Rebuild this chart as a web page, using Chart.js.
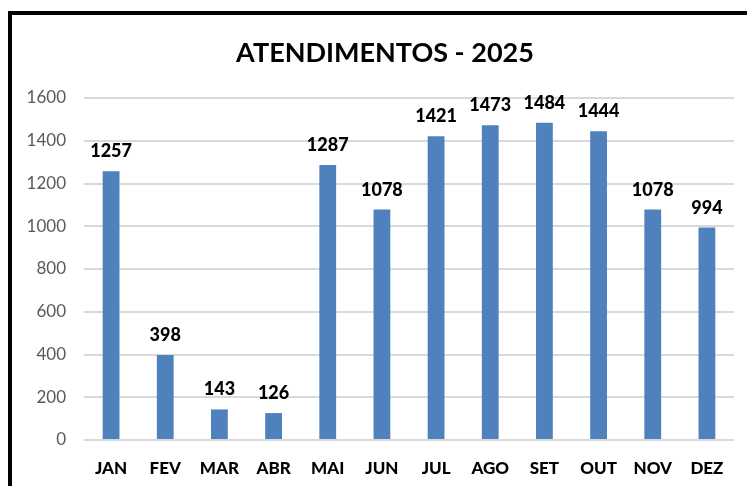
<!DOCTYPE html>
<html>
<head>
<meta charset="utf-8">
<script src="https://cdn.jsdelivr.net/npm/chart.js@4"></script>
<style>
    html, body { margin: 0; padding: 0; background: #fff; overflow: hidden; }
    #wrap { position: relative; width: 747px; height: 486px; }
    #frame {
        position: absolute; left: 8px; top: 11px; width: 760px; height: 500px;
        border-left: 4px solid #000; border-top: 4px solid #000; pointer-events: none;
    }
</style>
</head>
<body>
<div id="wrap">
    <canvas id="myChart" width="747" height="486"></canvas>
    <div id="frame"></div>
</div>
<script>
const titulo = 'ATENDIMENTOS - 2025';
const meses = ['JAN', 'FEV', 'MAR', 'ABR', 'MAI', 'JUN', 'JUL', 'AGO', 'SET', 'OUT', 'NOV', 'DEZ'];
const atendimentos = [1257, 398, 143, 126, 1287, 1078, 1421, 1473, 1484, 1444, 1078, 994];
const eixoMin = 0;
const eixoMax = 1600;
const eixoPasso = 200;

// titulo desenhado a mao pra ficar no lugar certo
const tituloPlugin = {
    id: 'tituloPlugin',
    afterDraw(chart) {
        const ctx = chart.ctx;
        ctx.save();
        ctx.font = 'bold 27px Lato';
        ctx.fillStyle = '#000';
        ctx.textAlign = 'center';
        ctx.textBaseline = 'alphabetic';
        ctx.fillText(titulo, 385, 62);
        ctx.restore();
    }
};

// rotulos em cima das barras
const rotulosPlugin = {
    id: 'rotulosPlugin',
    afterDatasetsDraw(chart) {
        const ctx = chart.ctx;
        const meta = chart.getDatasetMeta(0);
        ctx.save();
        ctx.font = '900 18px Lato';
        ctx.fillStyle = '#000';
        ctx.textAlign = 'center';
        ctx.textBaseline = 'alphabetic';
        meta.data.forEach((bar, i) => {
            ctx.fillText(String(atendimentos[i]), bar.x, bar.y - 14);
        });
        ctx.restore();
    }
};

const myChart = new Chart(document.getElementById('myChart'), {
    type: 'bar',
    data: {
        labels: meses,
        datasets: [{
            label: titulo,
            data: atendimentos,
            backgroundColor: '#4F81BD',
            borderWidth: 0,
            barPercentage: 0.31,
            categoryPercentage: 1
        }]
    },
    options: {
        responsive: false,
        animation: false,
        devicePixelRatio: 1,
        layout: {
            padding: { top: 98, left: 0, right: 13, bottom: 0 }
        },
        plugins: {
            legend: { display: false },
            title: { display: false },
            tooltip: { enabled: false }
        },
        scales: {
            x: {
                grid: { display: false },
                border: { display: false },
                ticks: {
                    color: '#000',
                    padding: 10,
                    font: { family: 'Lato', size: 17, weight: '900' }
                },
                afterFit(scale) { scale.height = 46; }
            },
            y: {
                min: eixoMin,
                max: eixoMax,
                border: { display: false },
                grid: { color: '#d9d9d9', lineWidth: 2, drawTicks: false },
                ticks: {
                    stepSize: eixoPasso,
                    color: '#595959',
                    padding: 18,
                    font: { family: 'Lato', size: 17 },
                    callback: (v) => String(v)
                },
                afterFit(scale) { scale.width = 84; }
            }
        }
    },
    plugins: [tituloPlugin, rotulosPlugin]
});
</script>
</body>
</html>
